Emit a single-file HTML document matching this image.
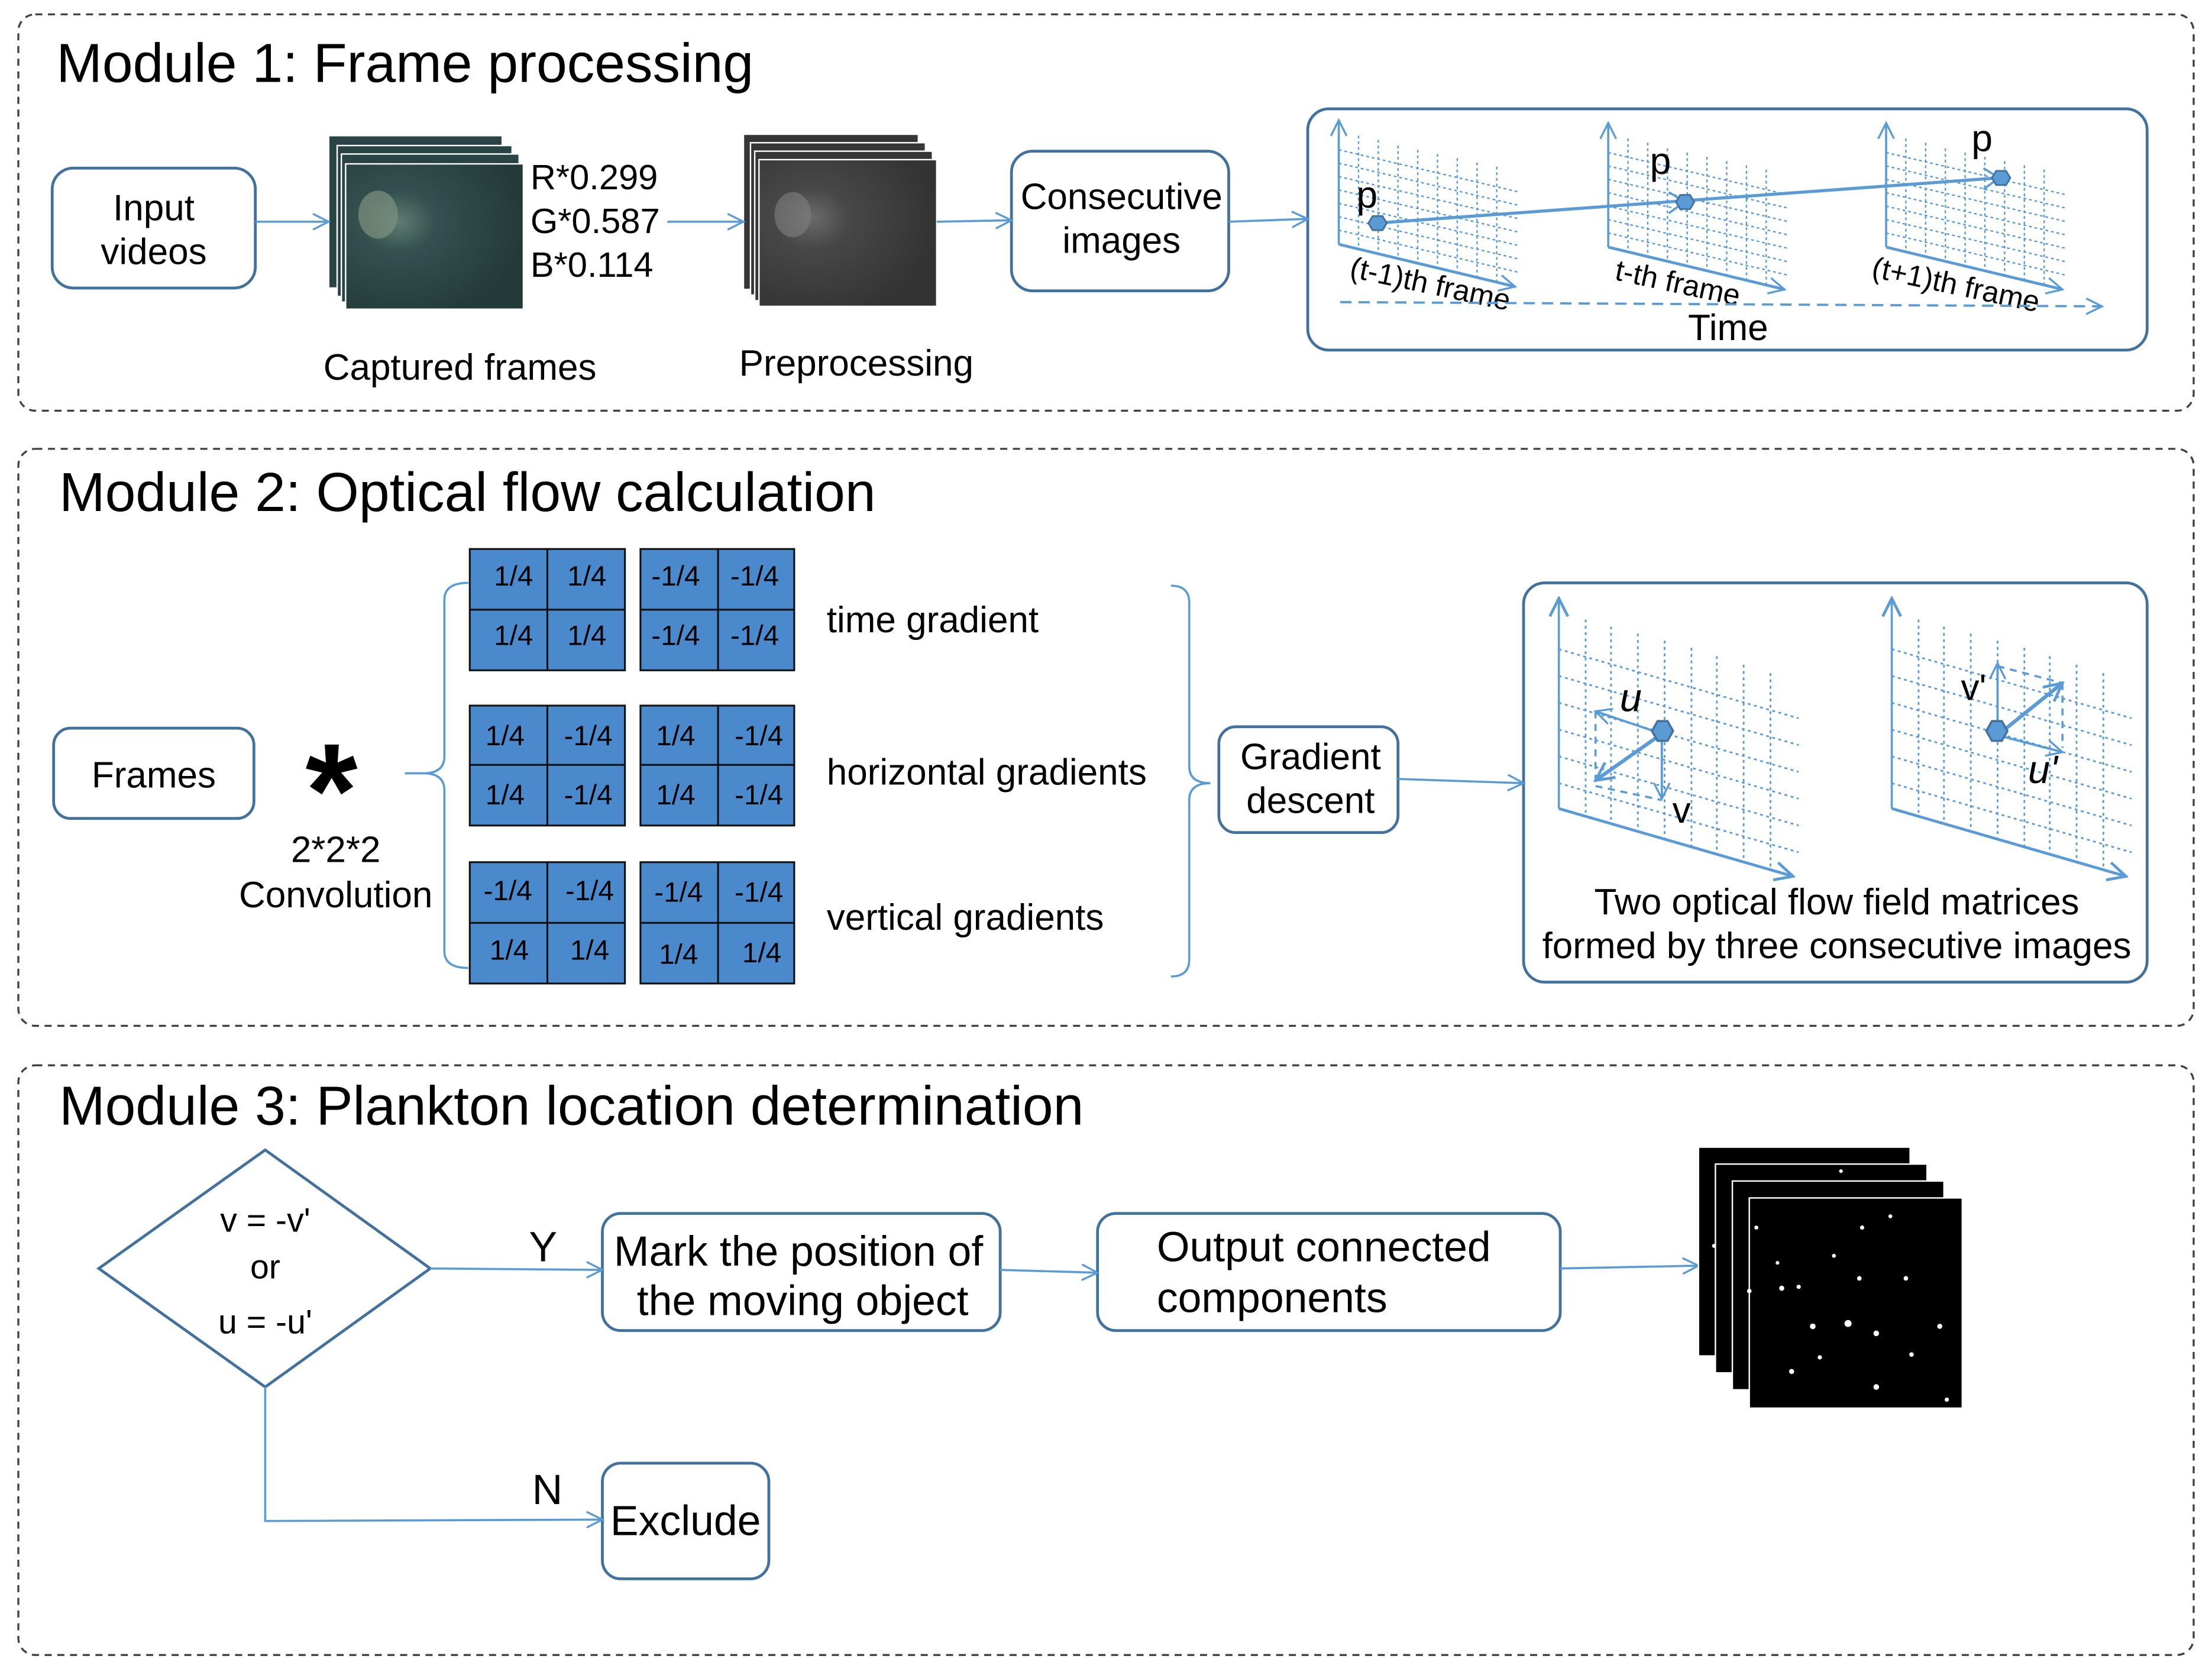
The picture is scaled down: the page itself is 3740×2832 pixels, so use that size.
<!DOCTYPE html>
<html><head><meta charset="utf-8"><style>
html,body{margin:0;padding:0;background:#fff}
svg{display:block}
text{font-family:"Liberation Sans",sans-serif;fill:#000}
</style></head><body>
<svg width="3740" height="2832" viewBox="0 0 1568 1187" xmlns="http://www.w3.org/2000/svg">
<defs>
<marker id="ar" viewBox="0 0 20 20" refX="18" refY="10" markerWidth="14" markerHeight="14" markerUnits="userSpaceOnUse" orient="auto">
<polyline points="2,2 18,10 2,18" fill="none" stroke="#5b9bd5" stroke-width="2"/>
</marker>
<marker id="arb" viewBox="0 0 20 20" refX="18" refY="10" markerWidth="16" markerHeight="16" markerUnits="userSpaceOnUse" orient="auto">
<polyline points="2,2 18,10 2,18" fill="none" stroke="#5b9bd5" stroke-width="2.5"/>
</marker>
<radialGradient id="tg" cx="0.3" cy="0.4" r="0.7">
<stop offset="0" stop-color="#5f7c72"/><stop offset="0.3" stop-color="#34504f"/><stop offset="1" stop-color="#233a3a"/>
</radialGradient>
<radialGradient id="gg" cx="0.3" cy="0.4" r="0.7">
<stop offset="0" stop-color="#6a6a6a"/><stop offset="0.3" stop-color="#474747"/><stop offset="1" stop-color="#333"/>
</radialGradient>
<g id="g1" stroke="#5b9bd5" fill="none">
<g stroke-width="1" stroke-dasharray="2,2">
<line x1="0" y1="-67" x2="128" y2="-37"/><line x1="0" y1="-57.5" x2="128" y2="-27.5"/>
<line x1="0" y1="-48" x2="128" y2="-18"/><line x1="0" y1="-38.5" x2="128" y2="-8.5"/>
<line x1="0" y1="-29" x2="128" y2="1"/><line x1="0" y1="-19.5" x2="128" y2="10.5"/>
<line x1="0" y1="-10" x2="128" y2="20"/>
<line x1="14" y1="-77" x2="14" y2="4"/><line x1="28" y1="-74" x2="28" y2="7"/>
<line x1="42" y1="-70" x2="42" y2="10"/><line x1="56" y1="-67" x2="56" y2="13"/>
<line x1="70" y1="-64" x2="70" y2="16"/><line x1="84" y1="-61" x2="84" y2="20"/>
<line x1="98" y1="-58" x2="98" y2="23"/><line x1="112" y1="-55" x2="112" y2="26"/>
</g>
<line x1="0" y1="0" x2="0" y2="-88" stroke-width="1.5" marker-end="url(#ar)"/>
<line x1="0" y1="0" x2="125" y2="30" stroke-width="2" marker-end="url(#ar)"/>
</g>
<g id="g2" stroke="#5b9bd5" fill="none">
<g stroke-width="1.2" stroke-dasharray="2,2.5">
<line x1="0" y1="-113" x2="170" y2="-64"/><line x1="0" y1="-94" x2="170" y2="-45"/>
<line x1="0" y1="-75" x2="170" y2="-26"/><line x1="0" y1="-56" x2="170" y2="-7"/>
<line x1="0" y1="-37" x2="170" y2="12"/><line x1="0" y1="-18" x2="170" y2="31"/>
<line x1="19" y1="-134" x2="19" y2="5"/><line x1="37" y1="-129" x2="37" y2="11"/>
<line x1="56" y1="-124" x2="56" y2="16"/><line x1="75" y1="-119" x2="75" y2="22"/>
<line x1="94" y1="-114" x2="94" y2="27"/><line x1="112" y1="-108" x2="112" y2="33"/>
<line x1="131" y1="-102" x2="131" y2="38"/><line x1="150" y1="-96" x2="150" y2="44"/>
</g>
<line x1="0" y1="0" x2="0" y2="-149" stroke-width="1.5" marker-end="url(#arb)"/>
<line x1="0" y1="0" x2="166" y2="48" stroke-width="2" marker-end="url(#arb)"/>
</g>
</defs>

<g fill="none" stroke="#404040" stroke-width="1.4" stroke-dasharray="5,4">
<rect x="13" y="10" width="1542" height="281" rx="12"/>
<rect x="13" y="318" width="1542" height="409" rx="12"/>
<rect x="13" y="755" width="1542" height="418" rx="12"/>
</g>
<text x="40" y="58" font-size="39">Module 1: Frame processing</text>
<text x="42" y="362" font-size="39">Module 2: Optical flow calculation</text>
<text x="42" y="797" font-size="39">Module 3: Plankton location determination</text>

<!-- ===== Module 1 ===== -->
<g fill="none" stroke="#41719c" stroke-width="2">
<rect x="37" y="119" width="144" height="85" rx="15"/>
<rect x="717" y="107" width="154" height="99" rx="15"/>
<rect x="927" y="77" width="595" height="171" rx="15"/>
</g>
<text x="109" y="156" font-size="26" text-anchor="middle">Input</text>
<text x="109" y="187" font-size="26" text-anchor="middle">videos</text>
<text x="795" y="148" font-size="26" text-anchor="middle">Consecutive</text>
<text x="795" y="179" font-size="26" text-anchor="middle">images</text>

<g stroke="#fff" stroke-width="1">
<rect x="233" y="96" width="123" height="108" fill="#2a4445"/>
<rect x="239" y="103" width="124" height="107" fill="#2a4445"/>
<rect x="242" y="109" width="126" height="105" fill="#2a4445"/>
<rect x="245" y="116" width="126" height="103" fill="url(#tg)"/>
</g>
<ellipse cx="268" cy="152" rx="14" ry="17" fill="#7f9180" opacity="0.7"/>
<g stroke="#fff" stroke-width="1">
<rect x="527" y="95" width="124" height="110" fill="#363636"/>
<rect x="532" y="101" width="124" height="108" fill="#363636"/>
<rect x="535" y="107" width="126" height="106" fill="#363636"/>
<rect x="538" y="113" width="126" height="104" fill="url(#gg)"/>
</g>
<ellipse cx="562" cy="152" rx="13" ry="16" fill="#808080" opacity="0.6"/>

<text x="376" y="134" font-size="25">R*0.299</text>
<text x="376" y="165" font-size="25">G*0.587</text>
<text x="376" y="196" font-size="25">B*0.114</text>
<text x="326" y="269" font-size="26" text-anchor="middle">Captured frames</text>
<text x="607" y="266" font-size="26" text-anchor="middle">Preprocessing</text>

<g stroke="#5b9bd5" stroke-width="1.5" fill="none" marker-end="url(#ar)">
<line x1="181" y1="157" x2="233" y2="157"/>
<line x1="473" y1="157" x2="527" y2="157"/>
<line x1="664" y1="157" x2="717" y2="156"/>
<line x1="871" y1="157" x2="927" y2="155"/>
</g>

<use href="#g1" x="949" y="173"/>
<use href="#g1" x="1140" y="175"/>
<use href="#g1" x="1337" y="175"/>
<line x1="976" y1="158" x2="1416" y2="126" stroke="#5b9bd5" stroke-width="2.2"/>
<polyline points="1183,136 1194,143 1183,151" fill="none" stroke="#5b9bd5" stroke-width="1.5"/>
<polyline points="1406,119 1417,126 1406,134" fill="none" stroke="#5b9bd5" stroke-width="1.5"/>
<g fill="#5b9bd5" stroke="#41719c" stroke-width="1.2">
<polygon points="970,158 973,153 980,153 983,158 980,163 973,163"/>
<polygon points="1188,143 1191,138 1198,138 1201,143 1198,148 1191,148"/>
<polygon points="1412,126 1415,121 1422,121 1425,126 1422,131 1415,131"/>
</g>
<text x="969" y="147" font-size="27" text-anchor="middle">p</text>
<text x="1177" y="123" font-size="27" text-anchor="middle">p</text>
<text x="1405" y="107" font-size="27" text-anchor="middle">p</text>
<text x="956" y="196" font-size="21" transform="rotate(12 956 196)">(t-1)th frame</text>
<text x="1144" y="198" font-size="21" transform="rotate(12 1144 198)">t-th frame</text>
<text x="1326" y="196" font-size="21" transform="rotate(12 1326 196)">(t+1)th frame</text>
<line x1="950" y1="214" x2="1490" y2="217" stroke="#5b9bd5" stroke-width="1.6" stroke-dasharray="8,5" marker-end="url(#ar)"/>
<text x="1225" y="241" font-size="26" text-anchor="middle">Time</text>

<!-- ===== Module 2 ===== -->
<g fill="none" stroke="#41719c" stroke-width="2">
<rect x="38" y="516" width="142" height="64" rx="12"/>
<rect x="864" y="515" width="127" height="75" rx="12"/>
<rect x="1080" y="413" width="442" height="283" rx="15"/>
</g>
<text x="109" y="558" font-size="26" text-anchor="middle">Frames</text>
<text x="929" y="545" font-size="26" text-anchor="middle">Gradient</text>
<text x="929" y="576" font-size="26" text-anchor="middle">descent</text>
<text x="235" y="593" font-size="95" font-weight="bold" text-anchor="middle">*</text>
<text x="238" y="611" font-size="26" text-anchor="middle">2*2*2</text>
<text x="238" y="643" font-size="26" text-anchor="middle">Convolution</text>

<line x1="287" y1="548" x2="300" y2="548" stroke="#5b9bd5" stroke-width="1.5"/>
<path d="M332 413 Q315 413 315 425 L315 536 Q315 548 300 548 Q315 548 315 560 L315 674 Q315 686 332 686" fill="none" stroke="#5b9bd5" stroke-width="1.5"/>
<path d="M830 415 Q843 415 843 427 L843 543 Q843 555 858 555 Q843 555 843 567 L843 680 Q843 692 830 692" fill="none" stroke="#5b9bd5" stroke-width="1.5"/>
<line x1="991" y1="552" x2="1080" y2="555" stroke="#5b9bd5" stroke-width="1.5" marker-end="url(#ar)"/>

<g fill="#4a89cc" stroke="#111" stroke-width="1.3">
<rect x="333" y="389" width="110" height="86"/><rect x="454" y="389" width="109" height="86"/>
<rect x="333" y="500" width="110" height="85"/><rect x="454" y="500" width="109" height="85"/>
<rect x="333" y="611" width="110" height="86"/><rect x="454" y="611" width="109" height="86"/>
</g>
<g stroke="#111" stroke-width="1.3">
<line x1="388" y1="389" x2="388" y2="475"/><line x1="509" y1="389" x2="509" y2="475"/>
<line x1="333" y1="432" x2="443" y2="432"/><line x1="454" y1="432" x2="563" y2="432"/>
<line x1="388" y1="500" x2="388" y2="585"/><line x1="509" y1="500" x2="509" y2="585"/>
<line x1="333" y1="542" x2="443" y2="542"/><line x1="454" y1="542" x2="563" y2="542"/>
<line x1="388" y1="611" x2="388" y2="697"/><line x1="509" y1="611" x2="509" y2="697"/>
<line x1="333" y1="654" x2="443" y2="654"/><line x1="454" y1="654" x2="563" y2="654"/>
</g>
<g font-size="20" text-anchor="middle">
<text x="364" y="415">1/4</text><text x="416" y="415">1/4</text>
<text x="479" y="415">-1/4</text><text x="535" y="415">-1/4</text>
<text x="364" y="457">1/4</text><text x="416" y="457">1/4</text>
<text x="479" y="457">-1/4</text><text x="535" y="457">-1/4</text>
<text x="358" y="528">1/4</text><text x="417" y="528">-1/4</text>
<text x="479" y="528">1/4</text><text x="538" y="528">-1/4</text>
<text x="358" y="570">1/4</text><text x="417" y="570">-1/4</text>
<text x="479" y="570">1/4</text><text x="538" y="570">-1/4</text>
<text x="360" y="638">-1/4</text><text x="418" y="638">-1/4</text>
<text x="481" y="639">-1/4</text><text x="538" y="639">-1/4</text>
<text x="361" y="680">1/4</text><text x="418" y="680">1/4</text>
<text x="481" y="683">1/4</text><text x="540" y="682">1/4</text>
</g>
<text x="586" y="448" font-size="26">time gradient</text>
<text x="586" y="556" font-size="26">horizontal gradients</text>
<text x="586" y="659" font-size="26">vertical gradients</text>

<use href="#g2" x="1105" y="573"/>
<use href="#g2" x="1341" y="573"/>
<g stroke="#5b9bd5" fill="none">
<line x1="1131" y1="504" x2="1131" y2="553" stroke-width="1.5" stroke-dasharray="5,4"/>
<line x1="1131" y1="557" x2="1178" y2="567" stroke-width="1.5" stroke-dasharray="5,4"/>
<line x1="1178" y1="520" x2="1131" y2="504" stroke-width="1.6" marker-end="url(#ar)"/>
<line x1="1178" y1="520" x2="1178" y2="566" stroke-width="1.6" marker-end="url(#ar)"/>
<line x1="1178" y1="520" x2="1131" y2="553" stroke-width="2.6" marker-end="url(#arb)"/>
<line x1="1416" y1="472" x2="1462" y2="484" stroke-width="1.5" stroke-dasharray="5,4"/>
<line x1="1462" y1="484" x2="1462" y2="530" stroke-width="1.5" stroke-dasharray="5,4"/>
<line x1="1416" y1="521" x2="1416" y2="470" stroke-width="1.6" marker-end="url(#ar)"/>
<line x1="1416" y1="521" x2="1462" y2="533" stroke-width="1.6" marker-end="url(#ar)"/>
<line x1="1416" y1="521" x2="1462" y2="484" stroke-width="2.6" marker-end="url(#arb)"/>
</g>
<g fill="#5b9bd5" stroke="#41719c" stroke-width="1.5">
<polygon points="1171,518 1175,511 1182,511 1186,518 1182,525 1175,525"/>
<polygon points="1408,518 1412,511 1419,511 1423,518 1419,525 1412,525"/>
</g>
<text x="1156" y="504" font-size="28" font-style="italic" text-anchor="middle">u</text>
<text x="1192" y="583" font-size="26" text-anchor="middle">v</text>
<text x="1399" y="496" font-size="26" text-anchor="middle">v'</text>
<text x="1448" y="555" font-size="28" font-style="italic" text-anchor="middle">u'</text>
<text x="1302" y="648" font-size="26" text-anchor="middle">Two optical flow field matrices</text>
<text x="1302" y="679" font-size="26" text-anchor="middle">formed by three consecutive images</text>

<!-- ===== Module 3 ===== -->
<polygon points="70,899 188,815 305,899 188,983" fill="none" stroke="#41719c" stroke-width="2"/>
<text x="188" y="873" font-size="24" text-anchor="middle">v = -v'</text>
<text x="188" y="906" font-size="24" text-anchor="middle">or</text>
<text x="188" y="945" font-size="24" text-anchor="middle">u = -u'</text>
<g fill="none" stroke="#41719c" stroke-width="2">
<rect x="427" y="860" width="282" height="83" rx="13"/>
<rect x="778" y="860" width="328" height="83" rx="13"/>
<rect x="427" y="1037" width="118" height="82" rx="13"/>
</g>
<text x="566" y="897" font-size="30" text-anchor="middle">Mark the position of</text>
<text x="569" y="932" font-size="30" text-anchor="middle">the moving object</text>
<text x="820" y="894" font-size="30">Output connected</text>
<text x="820" y="930" font-size="30">components</text>
<text x="486" y="1088" font-size="30" text-anchor="middle">Exclude</text>
<text x="385" y="894" font-size="30" text-anchor="middle">Y</text>
<text x="388" y="1066" font-size="30" text-anchor="middle">N</text>
<g stroke="#5b9bd5" stroke-width="1.5" fill="none" marker-end="url(#ar)">
<line x1="305" y1="899" x2="427" y2="900"/>
<line x1="709" y1="900" x2="778" y2="902"/>
<line x1="1106" y1="899" x2="1204" y2="897"/>
<polyline points="188,983 188,1078 427,1077"/>
</g>
<g fill="#000" stroke="#fff" stroke-width="1">
<rect x="1204" y="813" width="150" height="148"/>
<rect x="1216" y="825" width="150" height="148"/>
<rect x="1228" y="837" width="150" height="148"/>
<rect x="1240" y="849" width="151" height="149"/>
</g>
<g fill="#fff">
<circle cx="1310" cy="938" r="2.5"/><circle cx="1285" cy="940" r="2"/><circle cx="1330" cy="945" r="2"/>
<circle cx="1263" cy="913" r="1.8"/><circle cx="1275" cy="912" r="1.5"/><circle cx="1318" cy="906" r="1.6"/>
<circle cx="1351" cy="906" r="1.6"/><circle cx="1270" cy="972" r="1.8"/><circle cx="1330" cy="983" r="2"/>
<circle cx="1290" cy="962" r="1.5"/><circle cx="1375" cy="940" r="1.8"/><circle cx="1320" cy="870" r="1.5"/>
<circle cx="1340" cy="862" r="1.4"/><circle cx="1245" cy="870" r="1.4"/><circle cx="1300" cy="890" r="1.4"/>
<circle cx="1215" cy="883" r="1.4"/><circle cx="1240" cy="915" r="1.6"/><circle cx="1380" cy="992" r="1.5"/>
<circle cx="1355" cy="960" r="1.6"/><circle cx="1260" cy="895" r="1.3"/><circle cx="1305" cy="830" r="1.3"/>
</g>
</svg>
</body></html>
